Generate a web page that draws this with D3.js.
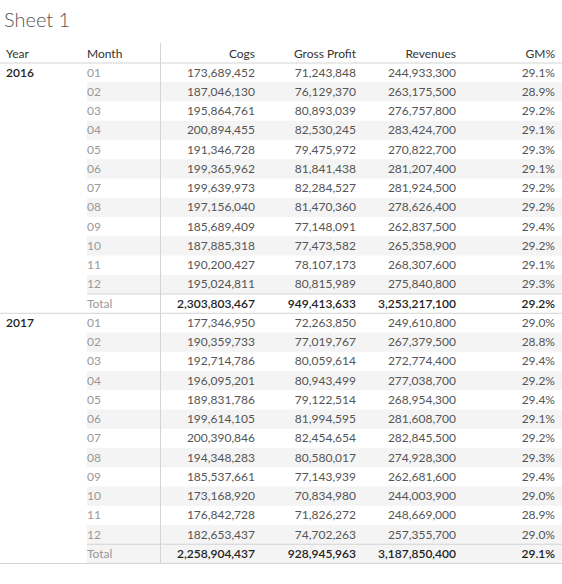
<!DOCTYPE html><html><head><meta charset="utf-8"><script src="https://cdn.jsdelivr.net/npm/d3@7"></script>
<style>body{margin:0;background:#fff}</style></head><body><svg id="c" width="562" height="584"></svg><script>
const years=["2016","2017"];
const months=["01","02","03","04","05","06","07","08","09","10","11","12"];
const cogs2016=[173689452,187046130,195864761,200894455,191346728,199365962,199639973,197156040,185689409,187885318,190200427,195024811];
const gp2016=[71243848,76129370,80893039,82530245,79475972,81841438,82284527,81470360,77148091,77473582,78107173,80815989];
const rev2016=[244933300,263175500,276757800,283424700,270822700,281207400,281924500,278626400,262837500,265358900,268307600,275840800];
const gm2016=[29.1,28.9,29.2,29.1,29.3,29.1,29.2,29.2,29.4,29.2,29.1,29.3];
const cogs2017=[177346950,190359733,192714786,196095201,189831786,199614105,200390846,194348283,185537661,173168920,176842728,182653437];
const gp2017=[72263850,77019767,80059614,80943499,79122514,81994595,82454654,80580017,77143939,70834980,71826272,74702263];
const rev2017=[249610800,267379500,272774400,277038700,268954300,281608700,282845500,274928300,262681600,244003900,248669000,257355700];
const gm2017=[29.0,28.8,29.4,29.2,29.4,29.1,29.2,29.3,29.4,29.0,28.9,29.0];
const totals=[[2303803467,949413633,3253217100,29.2],[2258904437,928945963,3187850400,29.1]];
const headers=["Year","Month","Cogs","Gross Profit","Revenues","GM%"];
const data=[[cogs2016,gp2016,rev2016,gm2016],[cogs2017,gp2017,rev2017,gm2017]];
const svg=d3.select("#c"),F="Lato, 'Open Sans', sans-serif",fmt=d3.format(",");
svg.append("text").attr("x",4).attr("y",27).attr("font-family",F).attr("font-size",20).attr("font-weight",300).attr("fill","#555").text("Sheet 1");
const rows=[];
years.forEach((y,yi)=>{months.forEach((m,mi)=>rows.push({y:mi==0?y:"",m,v:data[yi].map((a,k)=>a[mi]),tot:false,yi}));rows.push({y:"",m:"Total",v:totals[yi],tot:true,yi});});
const top0=63,rh=19.25;
const yS=d3.scaleLinear().domain([0,rows.length]).range([top0,top0+rh*rows.length]);
const colX=[6,87,255,356,456,555];
rows.forEach((r,i)=>{
  const shade=(i%13)%2==1||(r.tot&&r.yi==1);
  if(shade) svg.append("rect").attr("x",87).attr("y",yS(i)).attr("width",475).attr("height",rh).attr("fill","#f4f4f4");
});
const g=svg.append("g").attr("font-family",F).attr("font-size",12);
headers.forEach((h,i)=>g.append("text").attr("x",colX[i]).attr("y",58).attr("text-anchor",i<2?"start":"end").attr("fill","#333").text(h));
rows.forEach((r,i)=>{
  const yy=yS(i)+rh/2+4;
  if(r.y) g.append("text").attr("x",colX[0]).attr("y",yy).attr("fill","#222").attr("font-weight",600).text(r.y);
  g.append("text").attr("x",colX[1]).attr("y",yy).attr("fill","#999").text(r.m);
  r.v.forEach((v,k)=>g.append("text").attr("x",colX[k+2]).attr("y",yy).attr("text-anchor","end").attr("fill",r.tot?"#222":"#555").attr("font-weight",r.tot?600:400).text(k==3?v.toFixed(1)+"%":fmt(v)));
});
const line=(x1,x2,y)=>svg.append("line").attr("x1",x1).attr("x2",x2).attr("y1",y).attr("y2",y).attr("stroke","#d4d4d4");
line(0,562,top0);
rows.forEach((r,i)=>{if(r.tot){line(87,562,yS(i));line(0,562,yS(i+1));}});
svg.append("line").attr("x1",160.5).attr("x2",160.5).attr("y1",43).attr("y2",yS(rows.length)).attr("stroke","#d4d4d4");
</script></body></html>
